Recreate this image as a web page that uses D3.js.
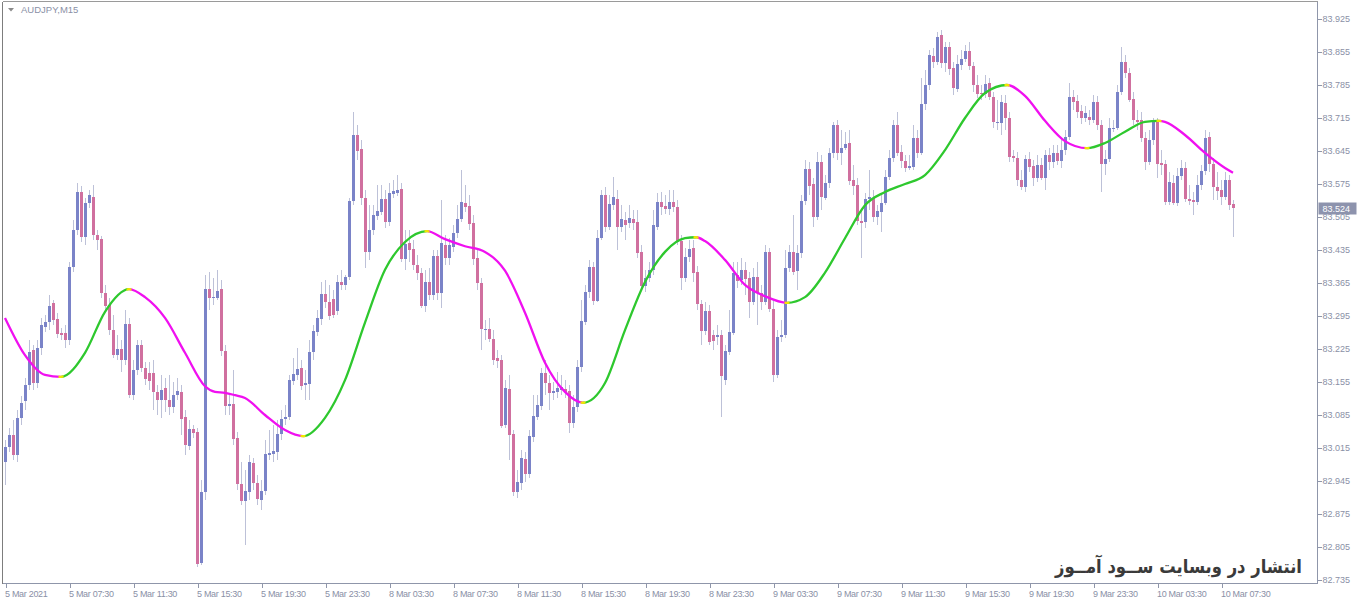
<!DOCTYPE html>
<html><head><meta charset="utf-8">
<script src="https://cdn.jsdelivr.net/npm/d3@7"></script>
<style>html,body{margin:0;padding:0;background:#fff;overflow:hidden}</style>
</head><body><svg id="c" width="1360" height="602"></svg>
<script>
// ---------- DATA ----------
const symbolLabel = "AUDJPY,M15";
const watermark = "انتشار در وبسایت ســود آمــوز";
const lastPrice = 83.524;
const priceTicks = [83.925,83.855,83.785,83.715,83.645,83.575,83.505,83.435,83.365,83.295,83.225,83.155,83.085,83.015,82.945,82.875,82.805,82.735];
const timeIdx = [0,16,32,48,64,80,96,112,128,144,160,176,192,208,224,240,256,272,288,304];
const timeLabels = ["5 Mar 2021","5 Mar 07:30","5 Mar 11:30","5 Mar 15:30","5 Mar 19:30","5 Mar 23:30","8 Mar 03:30","8 Mar 07:30","8 Mar 11:30","8 Mar 15:30","8 Mar 19:30","8 Mar 23:30","9 Mar 03:30","9 Mar 07:30","9 Mar 11:30","9 Mar 15:30","9 Mar 19:30","9 Mar 23:30","10 Mar 03:30","10 Mar 07:30"];

const open = [
82.986,83.017,83.042,83.000,83.079,83.113,83.148,83.223,83.153,83.227,
83.272,83.281,83.323,83.289,83.259,83.259,83.244,83.399,83.477,83.558,
83.462,83.535,83.547,83.466,83.458,83.344,83.318,83.265,83.212,83.225,
83.202,83.278,83.127,83.181,83.233,83.185,83.175,83.175,83.134,83.117,
83.142,83.117,83.102,83.127,83.134,83.081,83.019,83.055,83.049,82.772,
82.922,83.352,83.333,83.333,83.352,83.221,83.104,83.109,83.036,82.939,
82.903,82.922,82.984,82.941,82.905,82.924,83.000,83.003,83.007,83.045,
83.076,83.081,83.159,83.170,83.185,83.148,83.151,83.219,83.261,83.289,
83.342,83.325,83.331,83.306,83.367,83.361,83.378,83.539,83.679,83.649,
83.545,83.431,83.477,83.507,83.516,83.543,83.495,83.554,83.556,83.564,
83.416,83.450,83.437,83.403,83.387,83.316,83.367,83.339,83.422,83.344,
83.445,83.418,83.441,83.471,83.501,83.535,83.528,83.492,83.418,83.365,
83.265,83.268,83.246,83.206,83.202,83.063,83.140,83.045,82.922,82.941,
82.992,82.960,83.038,83.081,83.106,83.175,83.153,83.132,83.134,83.138,
83.140,83.136,83.068,83.102,83.187,83.283,83.346,83.399,83.327,83.460,
83.551,83.484,83.530,83.543,83.484,83.499,83.492,83.501,83.495,83.431,
83.359,83.376,83.393,83.484,83.537,83.528,83.522,83.537,83.526,83.454,
83.376,83.420,83.439,83.389,83.321,83.263,83.306,83.254,83.250,83.254,
83.159,83.219,83.259,83.382,83.371,83.393,83.376,83.325,83.378,83.344,
83.325,83.431,83.310,83.170,83.250,83.254,83.397,83.431,83.391,83.429,
83.539,83.607,83.575,83.505,83.622,83.547,83.578,83.641,83.700,83.641,
83.651,83.662,83.584,83.573,83.497,83.495,83.543,83.545,83.505,83.516,
83.535,83.590,83.630,83.700,83.643,83.624,83.609,83.611,83.673,83.641,
83.745,83.785,83.846,83.834,83.891,83.832,83.865,83.821,83.778,83.827,
83.840,83.857,83.825,83.785,83.768,83.766,83.789,83.759,83.705,83.705,
83.747,83.715,83.634,83.630,83.584,83.569,83.628,83.613,83.588,83.615,
83.588,83.636,83.622,83.641,83.624,83.647,83.675,83.759,83.751,83.730,
83.715,83.717,83.711,83.749,83.700,83.617,83.628,83.692,83.694,83.770,
83.834,83.811,83.755,83.711,83.711,83.673,83.622,83.668,83.707,83.620,
83.617,83.537,83.578,83.535,83.592,83.609,83.543,83.541,83.537,83.573,
83.603,83.675,83.617,83.569,83.562,83.547,83.584,83.532];

const high = [
83.032,83.057,83.074,83.096,83.125,83.164,83.244,83.233,83.244,83.291,
83.297,83.339,83.329,83.302,83.270,83.276,83.410,83.499,83.578,83.571,
83.545,83.562,83.573,83.477,83.464,83.361,83.333,83.297,83.254,83.244,
83.308,83.291,83.202,83.244,83.244,83.198,83.198,83.202,83.148,83.170,
83.164,83.170,83.155,83.164,83.148,83.096,83.074,83.063,83.057,82.947,
83.382,83.389,83.376,83.393,83.371,83.233,83.127,83.181,83.049,82.986,
82.968,83.000,82.994,82.958,82.947,83.032,83.053,83.063,83.074,83.096,
83.106,83.170,83.206,83.227,83.202,83.181,83.244,83.276,83.308,83.367,
83.371,83.361,83.350,83.382,83.393,83.382,83.545,83.728,83.700,83.668,
83.562,83.530,83.530,83.573,83.573,83.562,83.578,83.584,83.594,83.578,
83.477,83.477,83.456,83.424,83.397,83.393,83.397,83.435,83.435,83.541,
83.466,83.460,83.488,83.530,83.605,83.573,83.551,83.509,83.435,83.376,
83.287,83.291,83.265,83.223,83.212,83.159,83.170,83.053,82.968,83.011,
83.007,83.053,83.127,83.127,83.185,83.202,83.170,83.155,83.177,83.170,
83.159,83.148,83.127,83.202,83.329,83.361,83.414,83.410,83.477,83.562,
83.569,83.551,83.590,83.562,83.530,83.516,83.530,83.520,83.520,83.445,
83.393,83.410,83.520,83.556,83.558,83.551,83.562,83.562,83.541,83.466,
83.439,83.456,83.456,83.401,83.329,83.325,83.318,83.265,83.276,83.265,
83.233,83.308,83.410,83.410,83.418,83.410,83.389,83.397,83.410,83.361,
83.445,83.439,83.329,83.265,83.287,83.435,83.445,83.509,83.445,83.551,
83.626,83.622,83.588,83.643,83.636,83.594,83.651,83.707,83.711,83.690,
83.686,83.690,83.615,83.588,83.520,83.556,83.605,83.562,83.530,83.551,
83.605,83.647,83.711,83.728,83.658,83.636,83.636,83.700,83.690,83.800,
83.817,83.859,83.863,83.897,83.902,83.876,83.876,83.834,83.848,83.859,
83.869,83.876,83.834,83.806,83.785,83.806,83.800,83.770,83.753,83.764,
83.764,83.728,83.647,83.643,83.605,83.636,83.643,83.626,83.636,83.630,
83.647,83.651,83.658,83.658,83.668,83.690,83.789,83.774,83.764,83.743,
83.741,83.732,83.764,83.762,83.711,83.647,83.715,83.711,83.785,83.865,
83.848,83.821,83.770,83.732,83.728,83.686,83.690,83.715,83.715,83.647,
83.626,83.601,83.594,83.609,83.626,83.622,83.573,83.558,83.594,83.615,
83.690,83.686,83.630,83.601,83.584,83.601,83.594,83.541];

const low = [
82.936,83.007,82.990,82.986,83.063,83.096,83.138,83.138,83.142,83.212,
83.261,83.265,83.276,83.248,83.244,83.227,83.233,83.389,83.466,83.452,
83.445,83.524,83.456,83.435,83.333,83.304,83.254,83.206,83.202,83.177,
83.191,83.121,83.117,83.170,83.177,83.148,83.138,83.096,83.085,83.079,
83.092,83.085,83.090,83.117,83.042,83.000,83.011,83.036,82.763,82.767,
82.905,83.308,83.318,83.329,83.210,83.085,83.085,83.021,82.926,82.894,
82.809,82.905,82.926,82.894,82.884,82.915,82.990,82.986,82.990,83.032,
83.063,83.074,83.148,83.159,83.138,83.117,83.117,83.202,83.252,83.276,
83.312,83.287,83.291,83.297,83.350,83.350,83.371,83.530,83.626,83.530,
83.397,83.414,83.466,83.499,83.509,83.482,83.486,83.545,83.549,83.410,
83.393,83.410,83.393,83.371,83.312,83.304,83.329,83.329,83.329,83.312,
83.403,83.403,83.431,83.460,83.495,83.516,83.477,83.403,83.350,83.223,
83.244,83.240,83.191,83.185,83.057,83.057,82.990,82.913,82.909,82.926,
82.943,82.951,83.028,83.074,83.096,83.127,83.096,83.117,83.121,83.127,
83.121,83.047,83.057,83.092,83.177,83.276,83.333,83.318,83.325,83.456,
83.473,83.477,83.520,83.435,83.473,83.456,83.482,83.477,83.418,83.350,
83.346,83.367,83.382,83.477,83.509,83.511,83.509,83.516,83.445,83.350,
83.367,83.410,83.367,83.308,83.233,83.254,83.233,83.223,83.233,83.081,
83.148,83.212,83.254,83.354,83.361,83.339,83.291,83.318,83.276,83.308,
83.318,83.304,83.155,83.164,83.240,83.248,83.389,83.382,83.350,83.418,
83.530,83.551,83.484,83.499,83.520,83.541,83.567,83.630,83.626,83.615,
83.647,83.573,83.551,83.488,83.418,83.482,83.520,83.495,83.488,83.473,
83.530,83.584,83.622,83.634,83.609,83.601,83.605,83.605,83.630,83.636,
83.732,83.774,83.821,83.827,83.821,83.813,83.806,83.764,83.770,83.817,
83.834,83.817,83.770,83.757,83.753,83.757,83.753,83.694,83.690,83.679,
83.690,83.622,83.622,83.571,83.562,83.558,83.601,83.571,83.580,83.584,
83.562,83.605,83.609,83.615,83.609,83.636,83.668,83.732,83.715,83.703,
83.707,83.700,83.705,83.690,83.558,83.594,83.622,83.686,83.690,83.764,
83.800,83.749,83.700,83.690,83.664,83.605,83.615,83.658,83.588,83.594,
83.530,83.530,83.530,83.528,83.584,83.537,83.530,83.509,83.530,83.562,
83.594,83.601,83.541,83.541,83.530,83.541,83.520,83.462];

const close = [
83.017,83.042,83.000,83.079,83.111,83.148,83.219,83.153,83.227,83.276,
83.283,83.316,83.287,83.257,83.254,83.244,83.399,83.477,83.558,83.462,
83.535,83.551,83.466,83.456,83.344,83.316,83.265,83.212,83.225,83.202,
83.278,83.127,83.181,83.233,83.185,83.162,83.159,83.134,83.117,83.138,
83.117,83.102,83.127,83.136,83.076,83.021,83.055,83.047,82.770,82.922,
83.352,83.333,83.335,83.348,83.221,83.104,83.109,83.034,82.939,82.903,
82.924,82.986,82.941,82.907,82.924,83.003,83.005,83.009,83.045,83.076,
83.081,83.159,83.173,83.183,83.146,83.153,83.219,83.263,83.291,83.342,
83.325,83.295,83.297,83.367,83.361,83.378,83.539,83.679,83.645,83.545,
83.431,83.477,83.509,83.518,83.543,83.495,83.556,83.560,83.562,83.416,
83.448,83.435,83.403,83.387,83.318,83.367,83.339,83.422,83.344,83.450,
83.418,83.445,83.471,83.501,83.537,83.526,83.490,83.416,83.365,83.268,
83.268,83.246,83.202,83.200,83.063,83.142,83.042,82.922,82.943,82.994,
82.960,83.040,83.083,83.106,83.175,83.153,83.132,83.136,83.142,83.144,
83.134,83.068,83.102,83.187,83.285,83.346,83.399,83.327,83.460,83.551,
83.484,83.532,83.547,83.484,83.501,83.488,83.503,83.492,83.429,83.359,
83.376,83.393,83.488,83.537,83.526,83.522,83.537,83.526,83.452,83.376,
83.420,83.437,83.387,83.321,83.263,83.306,83.240,83.242,83.254,83.166,
83.221,83.261,83.387,83.369,83.393,83.373,83.325,83.378,83.344,83.325,
83.431,83.310,83.170,83.250,83.254,83.397,83.431,83.389,83.429,83.539,
83.607,83.571,83.505,83.622,83.547,83.578,83.641,83.700,83.641,83.651,
83.660,83.582,83.571,83.497,83.492,83.543,83.547,83.505,83.518,83.535,
83.590,83.630,83.700,83.641,83.624,83.609,83.613,83.673,83.641,83.745,
83.785,83.848,83.834,83.887,83.832,83.865,83.819,83.778,83.830,83.840,
83.857,83.825,83.785,83.766,83.766,83.787,83.759,83.705,83.707,83.749,
83.715,83.632,83.630,83.584,83.569,83.628,83.611,83.588,83.615,83.588,
83.636,83.622,83.641,83.624,83.647,83.675,83.759,83.749,83.728,83.715,
83.726,83.711,83.749,83.700,83.617,83.628,83.694,83.694,83.770,83.834,
83.811,83.753,83.711,83.707,83.673,83.622,83.668,83.707,83.617,83.615,
83.537,83.580,83.535,83.592,83.609,83.543,83.539,83.537,83.573,83.603,
83.673,83.617,83.569,83.560,83.547,83.584,83.530,83.524];

// smoothed trend line (bar index, value)
const lineIdx = [0,5,10,14,20,25,31,35,40,45,50,52.5,55,57.5,60,65,70,74.5,80,85,90,95,100,105.5,110,115,120,125,130,135,140,144.5,150,155,160,165,170,172.75,175,180,185,190,195.5,200,205,210,215,220,225,230,235,240,245,250.5,255,260,265,270.5,275,280,285,288.5,290,295,300,305,307];
const lineVal = [83.291,83.212,83.170,83.166,83.217,83.304,83.352,83.335,83.291,83.217,83.146,83.134,83.132,83.127,83.121,83.085,83.053,83.040,83.079,83.159,83.281,83.393,83.452,83.475,83.458,83.443,83.431,83.391,83.302,83.196,83.134,83.111,83.153,83.265,83.367,83.431,83.460,83.462,83.454,83.414,83.361,83.337,83.323,83.335,83.387,83.460,83.530,83.558,83.575,83.594,83.647,83.715,83.768,83.785,83.762,83.709,83.666,83.651,83.662,83.686,83.707,83.709,83.707,83.679,83.641,83.609,83.599];

// ---------- DRAW ----------
const svg = d3.select("#c");
const L = 2.5, T = 1.5, R = 1317.5, B = 583.5;
const x = d3.scaleLinear().domain([0, 328]).range([5, 1317]);
const y = d3.scaleLinear().domain([82.735, 83.925]).range([580, 19]);
const bull = "#7a83c8", bear = "#d0709f", wick = "#bdc1d8", axisCol = "#8f96aa", txtCol = "#8a90a6";

svg.append("rect").attr("width",1360).attr("height",602).attr("fill","#fff");

const bars = d3.range(close.length).map(i => ({i, o:open[i], h:high[i], l:low[i], c:close[i]}));

const cg = svg.append("g").attr("shape-rendering","crispEdges");
cg.selectAll("line.w").data(bars).join("line").attr("class","w")
  .attr("x1", d => x(d.i) + 0.5).attr("x2", d => x(d.i) + 0.5)
  .attr("y1", d => y(d.h)).attr("y2", d => y(d.l))
  .attr("stroke", wick).attr("stroke-width", 1);
cg.selectAll("rect.b").data(bars).join("rect").attr("class","b")
  .attr("x", d => x(d.i) - 1).attr("width", 3)
  .attr("y", d => Math.round(y(Math.max(d.o, d.c))))
  .attr("height", d => Math.max(1, Math.round(Math.abs(y(d.o) - y(d.c)))))
  .attr("fill", d => d.c > d.o ? bull : bear);

// trend line coloured by direction
const pts = lineIdx.map((d,k) => ({i:d, v:lineVal[k]}));
const lineGen = d3.line().x(d => x(d.i)).y(d => y(d.v)).curve(d3.curveMonotoneX);
const pathD = lineGen(pts);
const runs = [];
for (let k = 0; k < pts.length - 1; k++) {
  const col = pts[k+1].v > pts[k].v ? "#2ec82e" : "#f010f0";
  if (runs.length && runs[runs.length-1].col === col) runs[runs.length-1].b = pts[k+1].i;
  else runs.push({a: pts[k].i, b: pts[k+1].i, col});
}
const defs = svg.append("defs");
runs.forEach((r, k) => {
  defs.append("clipPath").attr("id","run"+k).append("rect")
    .attr("x", x(r.a) - (k === 0 ? 5 : 0)).attr("width", x(r.b) - x(r.a) + (k === 0 ? 5 : 0) + (k === runs.length-1 ? 5 : 0))
    .attr("y", 0).attr("height", 602);
  svg.append("path").attr("d", pathD).attr("fill","none").attr("stroke", r.col)
    .attr("stroke-width", 2.3).attr("clip-path", `url(#run${k})`);
});
runs.slice(1).forEach((r, k) => {
  defs.append("clipPath").attr("id","turn"+k).append("rect")
    .attr("x", x(r.a) - 2.5).attr("width", 5).attr("y", 0).attr("height", 602);
  svg.append("path").attr("d", pathD).attr("fill","none").attr("stroke", "#f2e600")
    .attr("stroke-width", 2.3).attr("clip-path", `url(#turn${k})`);
});

// frame
const fr = svg.append("g").attr("shape-rendering","crispEdges");
fr.append("line").attr("x1",L).attr("x2",L).attr("y1",T).attr("y2",B).attr("stroke","#7d7d7d");
fr.append("line").attr("x1",L).attr("x2",R).attr("y1",T).attr("y2",T).attr("stroke","#9a9a9a");
fr.append("line").attr("x1",R).attr("x2",R).attr("y1",T).attr("y2",B).attr("stroke",axisCol);
fr.append("line").attr("x1",L).attr("x2",R).attr("y1",B).attr("y2",B).attr("stroke",axisCol);

// right price axis
const ya = svg.append("g").attr("transform", `translate(${R},0)`)
  .call(d3.axisRight(y).tickValues(priceTicks).tickSize(4).tickPadding(1).tickFormat(d3.format(".3f")));
ya.select(".domain").remove();
ya.selectAll("line").attr("stroke", axisCol).attr("shape-rendering","crispEdges");
ya.selectAll("text").attr("fill", txtCol).style("font-family","'Liberation Sans', Arial, sans-serif").style("font-size","9px");

// bottom time axis
const xa = svg.append("g").attr("transform", `translate(0.5,${B})`)
  .call(d3.axisBottom(x).tickValues(timeIdx).tickSize(4).tickPadding(3).tickFormat((d,k) => timeLabels[k]));
xa.select(".domain").remove();
xa.selectAll("line").attr("stroke", axisCol).attr("shape-rendering","crispEdges");
xa.selectAll("text").attr("text-anchor","start").attr("x",-1).attr("fill", txtCol)
  .style("font-family","'Liberation Sans', Arial, sans-serif").style("font-size","9px").style("letter-spacing","-0.3px");

// current price tag
const py = y(lastPrice);
svg.append("rect").attr("x", R + 1).attr("y", Math.round(py) - 5.5).attr("width", 38).attr("height", 12).attr("fill", "#8d93ad");
svg.append("text").attr("x", R + 5).attr("y", py + 3.5).attr("fill","#fff")
  .style("font-family","'Liberation Sans', Arial, sans-serif").style("font-size","9px").text(d3.format(".3f")(lastPrice));

// symbol label
svg.append("path").attr("d","M8,8 L14,8 L11,11.5 Z").attr("fill","#8a8a8a");
svg.append("text").attr("x",21).attr("y",13).attr("fill",txtCol)
  .style("font-family","'Liberation Sans', Arial, sans-serif").style("font-size","9.5px").text(symbolLabel);

// watermark
svg.append("text").attr("x",1055).attr("y",573).attr("fill","#3a3a3a")
  .attr("textLength", 247).attr("lengthAdjust", "spacingAndGlyphs")
  .style("font-family","'DejaVu Sans', sans-serif").style("font-weight","bold").style("font-size","19px")
  .text(watermark);
</script></body></html>
